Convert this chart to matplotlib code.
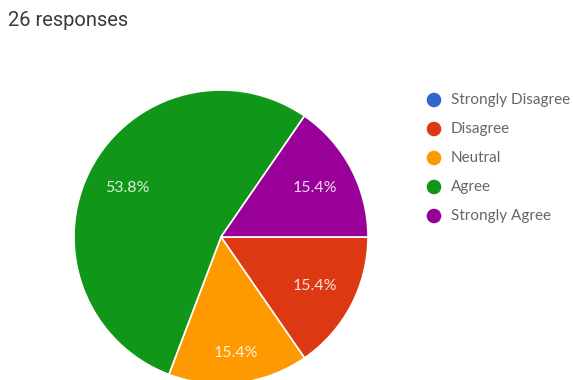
import matplotlib
matplotlib.use("Agg")
import matplotlib.pyplot as plt

# survey answers (26 responses)
categories = ["Strongly Disagree", "Disagree", "Neutral", "Agree", "Strongly Agree"]
counts = [0, 4, 4, 14, 4]
colors = ["#3366CC", "#DC3912", "#FF9900", "#109618", "#990099"]
n_responses = 26

W, H = 573, 380
fig = plt.figure(figsize=(W / 100, H / 100), dpi=100)
fig.patch.set_facecolor("white")

fig.text(8 / W, 1 - 21 / H, "%d responses" % n_responses, family="Roboto",
         fontsize=14.5, color="#3a3a3a", va="center", ha="left")

# pie axes: centre (221, 237), radius 147 px
cx, cy, r = 221, 237, 147
ax = fig.add_axes([(cx - r) / W, 1 - (cy + r) / H, 2 * r / W, 2 * r / H])

wedges, texts, autotexts = ax.pie(
    counts, colors=colors, radius=1, startangle=0, counterclock=False,
    autopct=lambda p: "%.1f%%" % p if p > 0 else "", pctdistance=0.72,
    wedgeprops=dict(edgecolor="white", linewidth=1.2),
    textprops=dict(color="white", fontsize=11.5, family="Lato", alpha=0.85))
ax.set_xlim(-1, 1)
ax.set_ylim(-1, 1)
ax.set_aspect("equal")
ax.axis("off")
for w in wedges:
    w.set_clip_on(False)
# neutral label sits a little lower
autotexts[2].set_position((0.1, -0.79))

# legend drawn on an overlay in pixel coordinates
lax = fig.add_axes([0, 0, 1, 1])
lax.set_xlim(0, W)
lax.set_ylim(H, 0)
lax.axis("off")
for i, (name, c) in enumerate(zip(categories, colors)):
    y = 100 + i * 29
    lax.scatter([434], [y], s=110, color=c, edgecolors="none")
    lax.text(451, y, name, fontsize=11, family="Lato",
             color="#666666", va="center", ha="left")

fig.savefig("out.png", dpi=100)
